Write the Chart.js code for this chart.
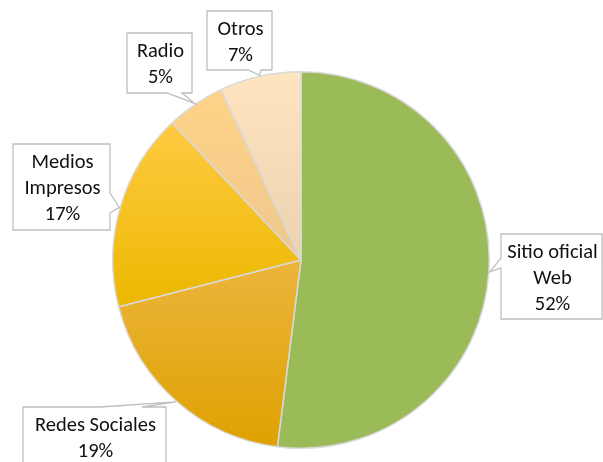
<!DOCTYPE html>
<html><head><meta charset="utf-8">
<script src="https://cdn.jsdelivr.net/npm/chart.js@4"></script>
<style>html,body{margin:0;padding:0;background:#fff;overflow:hidden}canvas{display:block}</style>
</head><body>
<canvas id="c" width="603" height="462"></canvas>
<script>
// ---- data ----
const categories = ['Sitio oficial Web', 'Redes Sociales', 'Medios Impresos', 'Radio', 'Otros'];
const values = [52, 19, 17, 5, 7];
const labelLines = [['Sitio oficial', 'Web'], ['Redes Sociales'], ['Medios', 'Impresos'], ['Radio'], ['Otros']];

// ---- styles ----
const colorTop = ['#9BBB59', '#ECB53D', '#FFCA42', '#FFD387', '#FFE4C0'];
const colorBottom = ['#9BBB59', '#DFA100', '#ECB800', '#EEC78E', '#EBD3AF'];

// ---- callout layout (box: left, top, right, bottom; wedge base on a side) ----
const callouts = [
  { box: [501, 234, 602, 319], side: 'left', base: [258, 268] },
  { box: [23, 407, 166, 467], side: 'top', base: [100, 142] },
  { box: [13, 144, 110, 230], side: 'right', base: [193, 213] },
  { box: [127, 33, 192, 93], side: 'bottom', base: [167, 182] },
  { box: [207, 11, 272, 70], side: 'bottom', base: [248, 261] }
];

const total = values.reduce((a, b) => a + b, 0);

function sliceGradient(ctx) {
  const chart = ctx.chart;
  const i = ctx.dataIndex;
  const ca = chart.chartArea;
  if (!ca || i === undefined) return colorTop[i] || '#ccc';
  const cx = (ca.left + ca.right) / 2, cy = (ca.top + ca.bottom) / 2;
  const r = Math.min(ca.width, ca.height) / 2;
  let before = 0;
  for (let k = 0; k < i; k++) before += values[k];
  const a0 = -Math.PI / 2 + before / total * Math.PI * 2;
  const a1 = a0 + values[i] / total * Math.PI * 2;
  let minY = cy, maxY = cy;
  for (let s = 0; s <= 60; s++) {
    const a = a0 + (a1 - a0) * s / 60;
    const y = cy + Math.sin(a) * r;
    minY = Math.min(minY, y); maxY = Math.max(maxY, y);
  }
  const g = chart.ctx.createLinearGradient(0, minY, 0, maxY);
  g.addColorStop(0, colorTop[i]);
  g.addColorStop(1, colorBottom[i]);
  return g;
}

const calloutPlugin = {
  id: 'callouts',
  afterDraw(chart) {
    const ctx = chart.ctx;
    const meta = chart.getDatasetMeta(0);
    meta.data.forEach((arc, i) => {
      const c = callouts[i];
      if (!c) return;
      const mid = (arc.startAngle + arc.endAngle) / 2;
      const R = arc.outerRadius + 1;
      const tx = arc.x + Math.cos(mid) * R, ty = arc.y + Math.sin(mid) * R;
      const [L, T, Rt, B] = c.box;
      const [b1, b2] = c.base;
      ctx.save();
      ctx.beginPath();
      ctx.moveTo(L, T);
      if (c.side === 'top') { ctx.lineTo(b1, T); ctx.lineTo(tx, ty); ctx.lineTo(b2, T); }
      ctx.lineTo(Rt, T);
      if (c.side === 'right') { ctx.lineTo(Rt, b1); ctx.lineTo(tx, ty); ctx.lineTo(Rt, b2); }
      ctx.lineTo(Rt, B);
      if (c.side === 'bottom') { ctx.lineTo(b2, B); ctx.lineTo(tx, ty); ctx.lineTo(b1, B); }
      ctx.lineTo(L, B);
      if (c.side === 'left') { ctx.lineTo(L, b2); ctx.lineTo(tx, ty); ctx.lineTo(L, b1); }
      ctx.closePath();
      ctx.fillStyle = '#ffffff';
      ctx.fill();
      ctx.strokeStyle = '#BFBFBF';
      ctx.lineWidth = 1.3;
      ctx.stroke();

      const lines = labelLines[i].concat([Math.round(values[i] / total * 100) + '%']);
      const lh = 26;
      const cxb = (L + Rt) / 2 + 1;
      const cyb = (T + B) / 2 + 2;
      ctx.fillStyle = '#111111';
      ctx.font = '20.5px Carlito, Lato, "Open Sans", sans-serif';
      ctx.textAlign = 'center';
      ctx.textBaseline = 'middle';
      lines.forEach((t, k) => {
        ctx.fillText(t, cxb, cyb + (k - (lines.length - 1) / 2) * lh);
      });
      ctx.restore();
    });
  }
};

new Chart(document.getElementById('c'), {
  type: 'pie',
  data: {
    labels: categories,
    datasets: [{
      data: values,
      backgroundColor: sliceGradient,
      borderColor: '#D9D9D9',
      borderWidth: 1.5
    }]
  },
  options: {
    responsive: false,
    animation: false,
    layout: { padding: { left: 112, right: 113, top: 71, bottom: 13 } },
    plugins: { legend: { display: false }, tooltip: { enabled: false } }
  },
  plugins: [calloutPlugin]
});
</script>
</body></html>
